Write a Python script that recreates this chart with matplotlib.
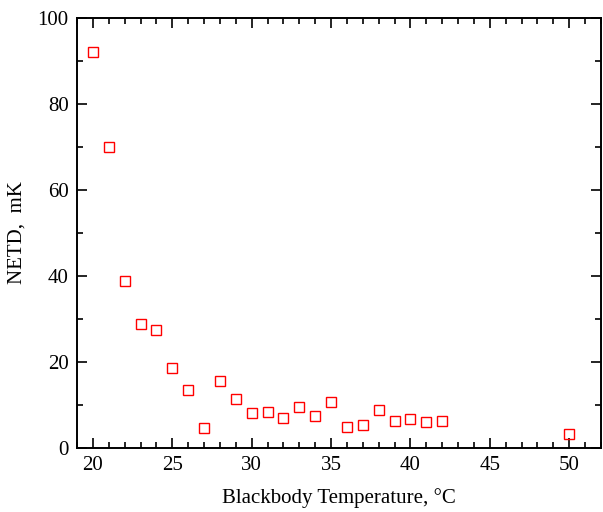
import matplotlib
matplotlib.use("Agg")
import matplotlib.pyplot as plt
from matplotlib.ticker import MultipleLocator

# ── Data ─────────────────────────────────────────────────────────────────────
temperature = [20, 21, 22, 23, 24, 25, 26, 27, 28, 29, 30, 31, 32, 33,
               34, 35, 36, 37, 38, 39, 40, 41, 42, 50]
netd = [92.0, 70.1, 38.8, 28.8, 27.4, 18.6, 13.5, 4.7, 15.6, 11.4, 8.1, 8.4,
        7.0, 9.5, 7.4, 10.7, 4.9, 5.3, 8.8, 6.3, 6.7, 6.1, 6.3, 3.3]

plt.rcParams["font.family"] = ["Liberation Serif", "DejaVu Serif"]

fig = plt.figure(figsize=(6.03, 5.12), dpi=100)
ax = fig.add_axes([0.1277, 0.125, 0.869, 0.8398])

ax.plot(temperature, netd, linestyle="none", marker="s", markersize=7,
        markerfacecolor="none", markeredgecolor="#FF0000", markeredgewidth=1.0)

# ── Axes ─────────────────────────────────────────────────────────────────────
ax.set_xlim(19, 52)
ax.set_ylim(0, 100)
ax.xaxis.set_major_locator(MultipleLocator(5))
ax.xaxis.set_minor_locator(MultipleLocator(1))
ax.yaxis.set_major_locator(MultipleLocator(20))
ax.yaxis.set_minor_locator(MultipleLocator(10))
ax.tick_params(which="both", direction="in", top=True, right=True,
               width=1.2, labelsize=15, pad=6)
ax.tick_params(which="major", length=7)
ax.tick_params(which="minor", length=4)
for s in ax.spines.values():
    s.set_linewidth(1.4)

ax.set_xlabel("Blackbody Temperature, \u00b0C", fontsize=15, labelpad=9)
ax.set_ylabel("NETD,  mK", fontsize=15, labelpad=8)

fig.savefig("out.png", dpi=100)
plt.close(fig)
